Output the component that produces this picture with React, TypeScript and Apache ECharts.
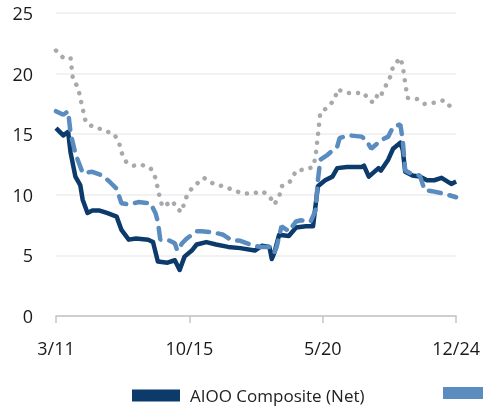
import React, { useEffect, useRef } from "react";
import * as echarts from "echarts";

// x = months since 3/2011 (0 = 3/11, 55 = 10/15, 110 = 5/20, 165 = 12/24)
const tickMonths = [0, 55, 110, 165];
const tickLabels = ["3/11", "10/15", "5/20", "12/24"];

const seriesNames = ["AIOO Composite (Net)", "AIOO Composite (Gross)", "Benchmark"];

const netMonths = [0, 3, 5, 6, 8, 10, 11, 13, 15, 18, 21, 25, 27, 30, 33, 38, 40, 42, 46, 49, 51, 53, 56, 58, 62, 66, 71, 76, 82, 85, 88, 89, 90, 92, 96, 99, 103, 106, 108, 111, 114, 116, 120, 126, 127, 129, 133, 134, 137, 139, 142, 143, 144, 147, 150, 153, 156, 159, 163, 165];
const netValues = [15.5, 14.9, 15.2, 13.5, 11.5, 10.8, 9.6, 8.5, 8.7, 8.7, 8.5, 8.2, 7.1, 6.3, 6.4, 6.3, 6.1, 4.5, 4.4, 4.6, 3.8, 4.9, 5.4, 5.9, 6.1, 5.9, 5.7, 5.6, 5.4, 5.8, 5.7, 4.7, 5.2, 6.7, 6.6, 7.3, 7.4, 7.4, 10.7, 11.2, 11.5, 12.2, 12.3, 12.3, 12.4, 11.5, 12.2, 12.0, 12.9, 13.8, 14.3, 13.7, 11.9, 11.6, 11.5, 11.2, 11.2, 11.4, 10.9, 11.1];

const grossMonths = [0, 3, 5, 6, 8, 11, 15, 19, 22, 25, 27, 30, 34, 39, 41, 42, 43, 46, 49, 50, 52, 54, 58, 60, 65, 69, 72, 76, 80, 84, 88, 90, 91, 93, 96, 99, 101, 105, 107, 108, 109, 112, 116, 117, 121, 126, 128, 130, 134, 137, 139, 142, 143, 144, 147, 150, 152, 155, 160, 165];
const grossValues = [16.9, 16.6, 16.9, 15.1, 13.4, 11.8, 11.9, 11.6, 11.1, 10.5, 9.3, 9.2, 9.4, 9.3, 8.5, 7.8, 6.3, 6.3, 6.0, 5.4, 6.0, 6.4, 7.0, 7.0, 6.9, 6.7, 6.3, 6.2, 5.9, 5.7, 5.7, 5.2, 5.7, 7.4, 7.0, 7.8, 7.9, 7.8, 8.7, 11.2, 12.9, 13.3, 14.0, 14.7, 14.9, 14.8, 14.5, 13.8, 14.5, 14.8, 15.6, 15.8, 14.5, 12.0, 11.7, 11.6, 10.4, 10.3, 10.1, 9.8];

const benchMonths = [0, 3, 6, 7, 9, 10, 11, 12, 13, 16, 20, 24, 26, 27, 29, 32, 35, 39, 41, 42, 43, 44, 48, 50, 52, 53, 55, 58, 61, 65, 69, 73, 77, 81, 85, 88, 90, 92, 93, 96, 97, 99, 103, 106, 107, 108, 109, 112, 115, 116, 120, 124, 127, 129, 131, 133, 134, 136, 138, 139, 142, 143, 144, 145, 149, 152, 156, 160, 163, 164];
const benchValues = [21.9, 21.3, 21.3, 19.5, 18.9, 18.0, 17.1, 16.2, 15.8, 15.6, 15.3, 15.0, 14.3, 13.5, 12.7, 12.4, 12.5, 12.2, 11.4, 10.5, 9.6, 9.0, 9.5, 8.8, 8.6, 9.5, 10.3, 10.9, 11.4, 10.9, 10.7, 10.4, 10.1, 10.1, 10.3, 9.9, 9.2, 9.8, 10.7, 11.0, 11.2, 12.0, 12.1, 12.3, 13.1, 14.9, 16.8, 17.2, 17.9, 18.7, 18.4, 18.4, 18.4, 17.8, 17.6, 18.4, 18.2, 19.0, 19.8, 20.6, 21.3, 20.6, 19.2, 18.0, 17.9, 17.5, 17.6, 17.8, 17.2, 17.2];

const zip = (xs: number[], ys: number[]) => xs.map((x, i) => [x, ys[i]]);

const NAVY = "#0b3a6b";
const BLUE = "#5b8cc0";
const GRAY = "#a7a9ac";
const FONT = "Open Sans";

export default function App() {
  const ref = useRef<HTMLDivElement>(null);
  useEffect(() => {
    if (!ref.current) return;
    const chart = echarts.init(ref.current, undefined, { renderer: "svg" });
    chart.setOption({
      animation: false,
      textStyle: { fontFamily: FONT },
      grid: { left: 56, right: 25, top: 13, bottom: 90, containLabel: false },
      legend: [
        {
          data: [seriesNames[0]],
          left: 127,
          top: 382,
          icon: "rect",
          itemWidth: 48,
          itemHeight: 12,
          itemGap: 10,
          itemStyle: { borderWidth: 0 },
          textStyle: { fontSize: 17, color: "#222", fontFamily: FONT, padding: [0, 0, 0, 5] },
        },
        {
          data: [seriesNames[1]],
          left: 438,
          top: 382,
          icon: "rect",
          itemWidth: 48,
          itemHeight: 12,
          itemStyle: { borderWidth: 0 },
          formatter: () => "",
          textStyle: { fontSize: 17, color: "#222", fontFamily: FONT },
        },
      ],
      xAxis: {
        type: "value",
        min: 0,
        max: 165,
        interval: 55,
        axisLine: { show: true, lineStyle: { color: "#c4c4c4", width: 1.5 } },
        axisTick: { show: true, length: 7, lineStyle: { color: "#c4c4c4", width: 1.5 } },
        splitLine: { show: false },
        axisLabel: {
          fontSize: 18,
          color: "#1a1a1a",
          margin: 23,
          fontFamily: FONT,
          formatter: (v: number) => {
            const i = tickMonths.indexOf(v);
            return i >= 0 ? tickLabels[i] : "";
          },
        },
      },
      yAxis: {
        type: "value",
        min: 0,
        max: 25,
        interval: 5,
        axisLine: { show: false },
        axisTick: { show: false },
        splitLine: { lineStyle: { color: "#eeeeee", width: 1.5 } },
        axisLabel: { fontSize: 18, color: "#1a1a1a", margin: 23, fontFamily: FONT },
      },
      series: [
        {
          name: seriesNames[2],
          type: "line",
          data: zip(benchMonths, benchValues),
          showSymbol: false,
          symbol: "none",
          itemStyle: { color: GRAY },
          lineStyle: { color: GRAY, width: 4.5, type: [0.1, 9], cap: "round" },
          z: 1,
        },
        {
          name: seriesNames[0],
          type: "line",
          data: zip(netMonths, netValues),
          showSymbol: false,
          symbol: "none",
          itemStyle: { color: NAVY },
          lineStyle: { color: NAVY, width: 4.5, join: "round" },
          z: 2,
        },
        {
          name: seriesNames[1],
          type: "line",
          data: zip(grossMonths, grossValues),
          showSymbol: false,
          symbol: "none",
          itemStyle: { color: BLUE },
          lineStyle: { color: BLUE, width: 4.5, type: [12, 9], cap: "round" },
          z: 3,
        },
      ],
    });
    return () => chart.dispose();
  }, []);
  return (
    <div
      ref={ref}
      style={{ position: "fixed", left: 0, top: 0, width: 483, height: 406 }}
    />
  );
}
